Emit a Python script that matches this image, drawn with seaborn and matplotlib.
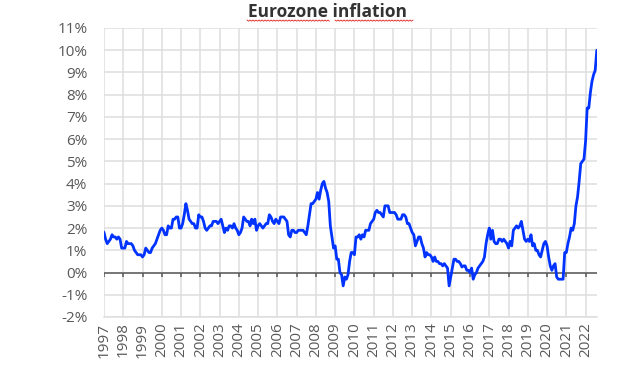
import numpy as np
import pandas as pd
import seaborn as sns
import matplotlib.pyplot as plt
from matplotlib.ticker import FuncFormatter, MultipleLocator
from matplotlib.lines import Line2D

# Eurozone inflation, annual rate (%), monthly values
first_date = 1997 - 1 / 12
inflation = [
    1.9, 1.8, 1.5, 1.3, 1.4, 1.5, 1.7, 1.6, 1.6, 1.5, 1.6, 1.5,
    1.1, 1.1, 1.1, 1.4, 1.3, 1.3, 1.3, 1.2, 1.0, 0.9, 0.8, 0.8,
    0.8, 0.7, 0.8, 1.1, 1.0, 0.9, 0.9, 1.1, 1.2, 1.3, 1.5, 1.7,
    1.9, 2.0, 1.9, 1.7, 1.7, 2.1, 2.0, 2.0, 2.4, 2.4, 2.5, 2.5,
    2.0, 2.0, 2.2, 2.6, 3.1, 2.8, 2.4, 2.3, 2.2, 2.2, 2.0, 2.0,
    2.6, 2.5, 2.5, 2.3, 2.0, 1.9, 2.0, 2.1, 2.1, 2.3, 2.3, 2.3,
    2.2, 2.3, 2.4, 2.1, 1.8, 2.0, 1.9, 2.1, 2.1, 2.0, 2.2, 2.0,
    1.9, 1.7, 1.8, 2.0, 2.5, 2.4, 2.3, 2.3, 2.1, 2.4, 2.2, 2.4,
    1.9, 2.1, 2.2, 2.1, 2.0, 2.1, 2.2, 2.2, 2.6, 2.5, 2.3, 2.2,
    2.4, 2.3, 2.2, 2.5, 2.5, 2.5, 2.4, 2.3, 1.7, 1.6, 1.9, 1.9,
    1.8, 1.8, 1.9, 1.9, 1.9, 1.9, 1.8, 1.7, 2.1, 2.6, 3.1, 3.1,
    3.2, 3.3, 3.6, 3.3, 3.7, 4.0, 4.1, 3.8, 3.6, 3.2, 2.1, 1.6,
    1.1, 1.2, 0.6, 0.6, 0.0, -0.1, -0.6, -0.2, -0.3, -0.1, 0.5, 0.9,
    0.9, 0.8, 1.6, 1.6, 1.7, 1.5, 1.7, 1.6, 1.9, 1.9, 1.9, 2.2,
    2.3, 2.4, 2.7, 2.8, 2.7, 2.7, 2.6, 2.5, 3.0, 3.0, 3.0, 2.7,
    2.7, 2.7, 2.7, 2.6, 2.4, 2.4, 2.4, 2.6, 2.6, 2.5, 2.2, 2.2,
    2.0, 1.8, 1.7, 1.2, 1.4, 1.6, 1.6, 1.3, 1.1, 0.7, 0.9, 0.8,
    0.8, 0.7, 0.5, 0.7, 0.5, 0.5, 0.4, 0.4, 0.3, 0.4, 0.3, 0.2,
    -0.6, -0.2, 0.2, 0.6, 0.6, 0.5, 0.5, 0.4, 0.25, 0.3, 0.3, 0.1,
    0.1, 0.0, 0.2, -0.3, -0.1, 0.0, 0.2, 0.3, 0.4, 0.5, 0.7, 1.3,
    1.7, 2.0, 1.5, 1.9, 1.4, 1.3, 1.3, 1.5, 1.5, 1.4, 1.5, 1.4,
    1.3, 1.1, 1.4, 1.2, 1.9, 2.0, 2.1, 2.0, 2.1, 2.3, 1.9, 1.5,
    1.4, 1.5, 1.4, 1.7, 1.2, 1.3, 1.0, 1.0, 0.8, 0.7, 1.0, 1.3,
    1.4, 1.2, 0.7, 0.3, 0.1, 0.3, 0.4, -0.2, -0.3, -0.3, -0.3, -0.3,
    0.9, 0.9, 1.3, 1.6, 2.0, 1.9, 2.2, 3.0, 3.4, 4.1, 4.9, 5.0,
    5.1, 5.9, 7.4, 7.4, 8.1, 8.6, 8.9, 9.1, 10.0,
]
year_labels = list(range(1997, 2023))

df = pd.DataFrame({
    'date': first_date + np.arange(len(inflation)) / 12,
    'inflation': inflation,
})

sns.set_theme(style='whitegrid')
plt.rcParams['font.family'] = ['Open Sans', 'DejaVu Sans']

fig = plt.figure(figsize=(6.34, 3.81), dpi=100)
ax = fig.add_axes([104 / 634, 1 - 317 / 381, 493 / 634, 289 / 381])

grid_color = '#dedede'
ax.grid(True, color=grid_color, linewidth=1.1)
for side in ['left', 'right', 'top']:
    ax.spines[side].set_visible(False)
ax.spines['bottom'].set_color(grid_color)
ax.spines['bottom'].set_linewidth(1.1)

# zero line with small tick marks at each year
ax.axhline(0, color='#595959', linewidth=1.1, zorder=2)
ax.vlines(year_labels, -0.22, 0, color='#595959', linewidth=1.1, zorder=2)

sns.lineplot(data=df, x='date', y='inflation', ax=ax, color='#0033ff',
             linewidth=2.0, zorder=3)

ax.set_xlim(1997, df['date'].iloc[-1] + 0.01)
ax.set_ylim(-2, 11)
ax.set_xticks(year_labels)
ax.set_xticklabels([str(y) for y in year_labels], rotation=90)
ax.yaxis.set_major_locator(MultipleLocator(1))
ax.yaxis.set_major_formatter(FuncFormatter(lambda v, p: f'{int(round(v))}%'))
ax.tick_params(axis='both', length=0, labelsize=11, labelcolor='#595959')
ax.tick_params(axis='y', pad=12)
ax.tick_params(axis='x', pad=4)
ax.set_xlabel('')
ax.set_ylabel('')

fig.text(328 / 634, 1 - 17 / 381, 'Eurozone inflation', ha='center',
         va='baseline', fontsize=12.5, fontweight='bold', color='#333333')

# red spell-check squiggle under the title words
for x0, x1 in [(247, 329), (335, 413)]:
    xs = np.arange(x0, x1 + 1, 1.5)
    ys = 20 + np.where(np.arange(len(xs)) % 2 == 0, 0, 1.2)
    fig.add_artist(Line2D(xs / 634, 1 - ys / 381, color='#e02020',
                          linewidth=0.6, transform=fig.transFigure))

fig.savefig('out.png', dpi=100)
